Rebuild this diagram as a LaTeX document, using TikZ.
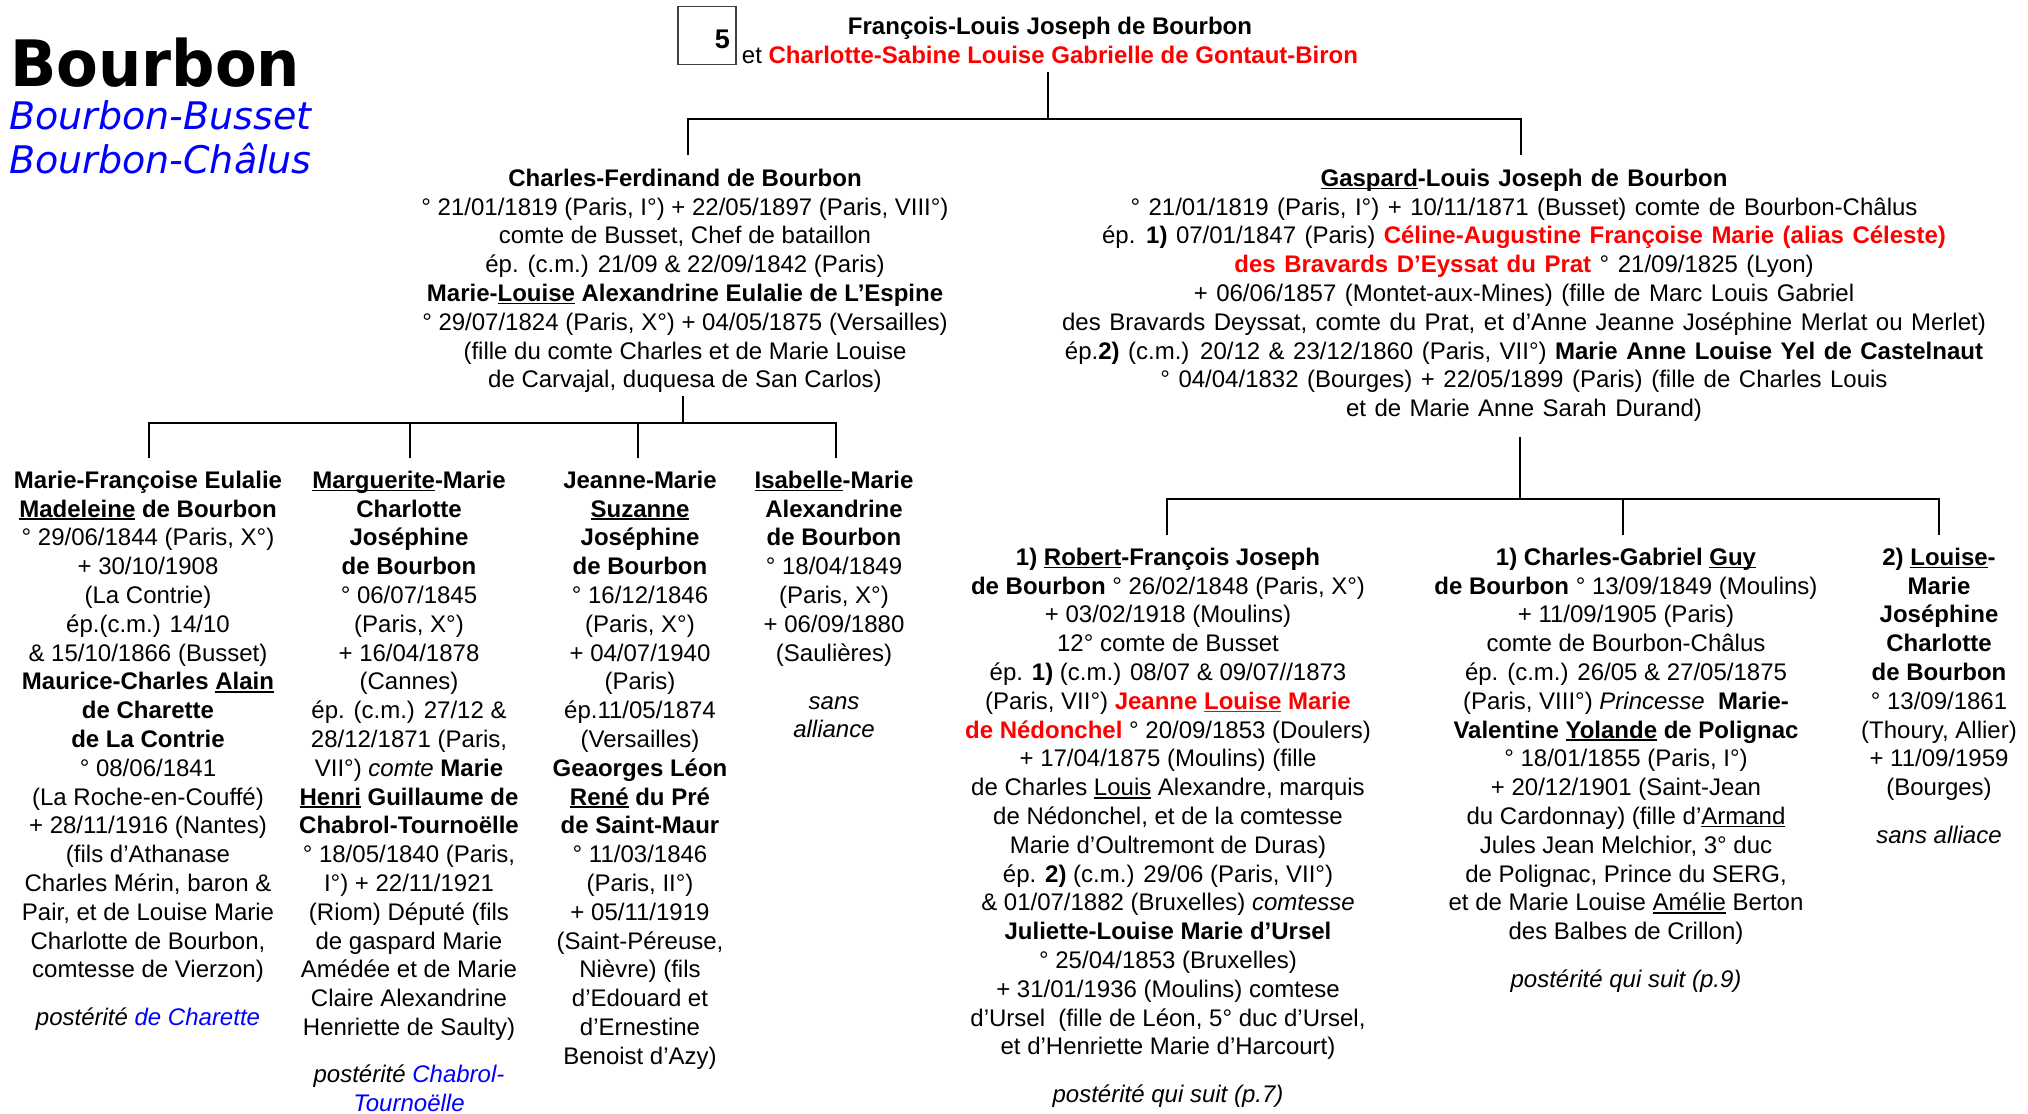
\documentclass[tikz,border=0pt]{standalone}
\usepackage{fontspec}
\setmainfont{Liberation Sans}
\newfontfamily\ttlfont[FakeStretch=0.95,BoldFont={DejaVu Sans Bold}]{DejaVu Sans}
\newfontfamily\subfont[ItalicFont={DejaVu Sans Oblique}]{DejaVu Sans}
\usetikzlibrary{calc}
\definecolor{pred}{RGB}{255,0,0}
\definecolor{pblue}{RGB}{0,0,255}
\newcommand\undl[1]{\setbox0\hbox{#1}\rlap{\rule[-3pt]{\wd0}{1.7pt}}\box0\relax}
\newcommand\mys{\rule[-8.64pt]{0pt}{28.8pt}}
\newcommand\rb[1]{{\color{pred}\bfseries #1}}
\newcommand\bl[1]{{\color{pblue}#1}}
\newcommand\widesp{\spaceskip=8.5pt\relax}
\tikzset{
  txt/.style={anchor=north, inner sep=0pt, align=center, font=\fontsize{24}{28.8}\selectfont},
  tree/.style={line width=2.7pt, black},
  ttl/.style={anchor=base west, inner sep=0pt},
}
\begin{document}
\begin{tikzpicture}[x=1pt,y=-1pt]
\useasboundingbox (0,0) rectangle (2028,1113);
\fill[white] (0,0) rectangle (2028,1113);

% titles
\node[ttl, font=\ttlfont\bfseries\fontsize{64}{70}\selectfont] (title) at (10,87) {Bourbon};
\node[ttl, font=\subfont\itshape\fontsize{38}{44}\selectfont, text=pblue] (sub1) at (9,129) {Bourbon-Busset};
\node[ttl, font=\subfont\itshape\fontsize{38}{44}\selectfont, text=pblue] (sub2) at (9,173) {Bourbon-Châlus};

% page box
\node[draw=black!75, line width=1.3pt, minimum width=58pt, minimum height=58pt, inner sep=0pt] (box) at (707,35.6) {};
\node[anchor=base east, inner sep=0pt, font=\bfseries\fontsize{27}{30}\selectfont] (num) at (730,48.5) {5};

% header
\node[txt] (hdr) at (1050,14.34) {\mys\textbf{François-Louis Joseph de Bourbon}\\
et \rb{Charlotte-Sabine Louise Gabrielle de Gontaut-Biron}\mys};

% generation 1
\node[txt] (cf) at (685,165.84) {\mys\textbf{Charles-Ferdinand de Bourbon}\\
° 21/01/1819 (Paris, I°) + 22/05/1897 (Paris, VIII°)\\
comte de Busset, Chef de bataillon\\
ép. (c.m.) 21/09 \& 22/09/1842 (Paris)\\
\textbf{Marie-\undl{Louise} Alexandrine Eulalie de L’Espine}\\
° 29/07/1824 (Paris, X°) + 04/05/1875 (Versailles)\\
(fille du comte Charles et de Marie Louise\\
de Carvajal, duquesa de San Carlos)\mys};

\node[txt, font=\fontsize{24}{28.8}\selectfont\widesp] (gl) at (1524,165.84) {\mys\textbf{\undl{Gaspard}-Louis Joseph de Bourbon}\\
° 21/01/1819 (Paris, I°) + 10/11/1871 (Busset) comte de Bourbon-Châlus\\
ép. \textbf{1)} 07/01/1847 (Paris) \rb{Céline-Augustine Françoise Marie (alias Céleste)}\\
\rb{des Bravards D’Eyssat du Prat} ° 21/09/1825 (Lyon)\\
+ 06/06/1857 (Montet-aux-Mines) (fille de Marc Louis Gabriel\\
des Bravards Deyssat, comte du Prat, et d’Anne Jeanne Joséphine Merlat ou Merlet)\\
ép.\textbf{2)} (c.m.) 20/12 \& 23/12/1860 (Paris, VII°) \textbf{Marie Anne Louise Yel de Castelnaut}\\
° 04/04/1832 (Bourges) + 22/05/1899 (Paris) (fille de Charles Louis\\
et de Marie Anne Sarah Durand)\mys};

% children of Charles-Ferdinand
\node[txt] (m1) at (148,467.84) {\mys\textbf{Marie-Françoise Eulalie}\\
\textbf{\undl{Madeleine} de Bourbon}\\
° 29/06/1844 (Paris, X°)\\
+ 30/10/1908\\
(La Contrie)\\
ép.(c.m.) 14/10\\
\& 15/10/1866 (Busset)\\
\textbf{Maurice-Charles \undl{Alain}}\\
\textbf{de Charette}\\
\textbf{de La Contrie}\\
° 08/06/1841\\
(La Roche-en-Couffé)\\
+ 28/11/1916 (Nantes)\\
(fils d’Athanase\\
Charles Mérin, baron \&\\
Pair, et de Louise Marie\\
Charlotte de Bourbon,\\
comtesse de Vierzon)\\[19.2pt]
\textit{postérité \bl{de Charette}}\mys};

\node[txt] (m2) at (409,467.84) {\mys\textbf{\undl{Marguerite}-Marie}\\
\textbf{Charlotte}\\
\textbf{Joséphine}\\
\textbf{de Bourbon}\\
° 06/07/1845\\
(Paris, X°)\\
+ 16/04/1878\\
(Cannes)\\
ép. (c.m.) 27/12 \&\\
28/12/1871 (Paris,\\
VII°) \textit{comte} \textbf{Marie}\\
\textbf{\undl{Henri} Guillaume de}\\
\textbf{Chabrol-Tournoëlle}\\
° 18/05/1840 (Paris,\\
I°) + 22/11/1921\\
(Riom) Député (fils\\
de gaspard Marie\\
Amédée et de Marie\\
Claire Alexandrine\\
Henriette de Saulty)\\[18pt]
\textit{postérité \bl{Chabrol-}}\\
\textit{\bl{Tournoëlle}}\mys};

\node[txt] (m3) at (640,467.84) {\mys\textbf{Jeanne-Marie}\\
\textbf{\undl{Suzanne}}\\
\textbf{Joséphine}\\
\textbf{de Bourbon}\\
° 16/12/1846\\
(Paris, X°)\\
+ 04/07/1940\\
(Paris)\\
ép.11/05/1874\\
(Versailles)\\
\textbf{Geaorges Léon}\\
\textbf{\undl{René} du Pré}\\
\textbf{de Saint-Maur}\\
° 11/03/1846\\
(Paris, II°)\\
+ 05/11/1919\\
(Saint-Péreuse,\\
Nièvre) (fils\\
d’Edouard et\\
d’Ernestine\\
Benoist d’Azy)\mys};

\node[txt] (m4) at (834,467.84) {\mys\textbf{\undl{Isabelle}-Marie}\\
\textbf{Alexandrine}\\
\textbf{de Bourbon}\\
° 18/04/1849\\
(Paris, X°)\\
+ 06/09/1880\\
(Saulières)\\[19.2pt]
\textit{sans}\\
\textit{alliance}\mys};

% children of Gaspard
\node[txt] (n1) at (1168,544.84) {\mys\textbf{1) \undl{Robert}-François Joseph}\\
\textbf{de Bourbon} ° 26/02/1848 (Paris, X°)\\
+ 03/02/1918 (Moulins)\\
12° comte de Busset\\
ép. \textbf{1)} (c.m.) 08/07 \& 09/07//1873\\
(Paris, VII°) \rb{Jeanne \undl{Louise} Marie}\\
\rb{de Nédonchel} ° 20/09/1853 (Doulers)\\
+ 17/04/1875 (Moulins) (fille\\
de Charles \undl{Louis} Alexandre, marquis\\
de Nédonchel, et de la comtesse\\
Marie d’Oultremont de Duras)\\
ép. \textbf{2)} (c.m.) 29/06 (Paris, VII°)\\
\& 01/07/1882 (Bruxelles) \textit{comtesse}\\
\textbf{Juliette-Louise Marie d’Ursel}\\
° 25/04/1853 (Bruxelles)\\
+ 31/01/1936 (Moulins) comtese\\
d’Ursel\ \ (fille de Léon, 5° duc d’Ursel,\\
et d’Henriette Marie d’Harcourt)\\[19.2pt]
\textit{postérité qui suit (p.7)}\mys};

\node[txt] (n2) at (1626,544.84) {\mys\textbf{1) Charles-Gabriel \undl{Guy}}\\
\textbf{de Bourbon} ° 13/09/1849 (Moulins)\\
+ 11/09/1905 (Paris)\\
comte de Bourbon-Châlus\\
ép. (c.m.) 26/05 \& 27/05/1875\\
(Paris, VIII°) \textit{Princesse}\ \ \textbf{Marie-}\\
\textbf{Valentine \undl{Yolande} de Polignac}\\
° 18/01/1855 (Paris, I°)\\
+ 20/12/1901 (Saint-Jean\\
du Cardonnay) (fille d’\undl{Armand}\\
Jules Jean Melchior, 3° duc\\
de Polignac, Prince du SERG,\\
et de Marie Louise \undl{Amélie} Berton\\
des Balbes de Crillon)\\[19.2pt]
\textit{postérité qui suit (p.9)}\mys};

\node[txt] (n3) at (1939,544.84) {\mys\textbf{2) \undl{Louise}-}\\
\textbf{Marie}\\
\textbf{Joséphine}\\
\textbf{Charlotte}\\
\textbf{de Bourbon}\\
° 13/09/1861\\
(Thoury, Allier)\\
+ 11/09/1959\\
(Bourges)\\[19.2pt]
\textit{sans alliace}\mys};

% connectors
\coordinate (b0) at (1048,119);
\coordinate (bL) at (688,119);
\coordinate (bR) at (1521,119);
\draw[tree] (b0 |- hdr.south) -- (b0);
\draw[tree] ($(bL |- cf.north)+(0,-11)$) -- (bL) -- (bR) -- ($(bR |- gl.north)+(0,-11)$);

\coordinate (p0) at (683,423);
\coordinate (k1) at (149,423);
\coordinate (k2) at (410,423);
\coordinate (k3) at (638,423);
\coordinate (k4) at (836,423);
\draw[tree] ($(p0 |- cf.south)+(0,-1)$) -- (p0);
\draw[tree] ($(k1 |- m1.north)+(0,-10)$) -- (k1) -- (k4) -- ($(k4 |- m4.north)+(0,-10)$);
\draw[tree] (k2) -- ($(k2 |- m2.north)+(0,-10)$);
\draw[tree] (k3) -- ($(k3 |- m3.north)+(0,-10)$);

\coordinate (q0) at (1520,499);
\coordinate (r1) at (1167,499);
\coordinate (r2) at (1623,499);
\coordinate (r3) at (1939,499);
\draw[tree] ($(q0 |- gl.south)+(0,12)$) -- (q0);
\draw[tree] ($(r1 |- n1.north)+(0,-10)$) -- (r1) -- (r3) -- ($(r3 |- n3.north)+(0,-10)$);
\draw[tree] (r2) -- ($(r2 |- n2.north)+(0,-10)$);
\end{tikzpicture}
\end{document}
